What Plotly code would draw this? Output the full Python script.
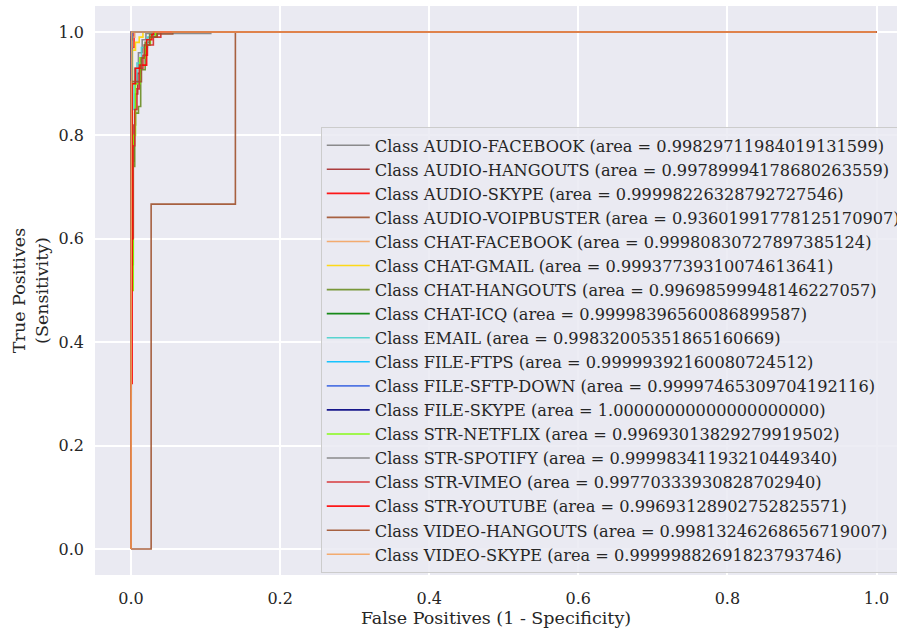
import plotly.graph_objects as go

class_names = ["AUDIO-FACEBOOK", "AUDIO-HANGOUTS", "AUDIO-SKYPE", "AUDIO-VOIPBUSTER",
               "CHAT-FACEBOOK", "CHAT-GMAIL", "CHAT-HANGOUTS", "CHAT-ICQ", "EMAIL",
               "FILE-FTPS", "FILE-SFTP-DOWN", "FILE-SKYPE", "STR-NETFLIX", "STR-SPOTIFY",
               "STR-VIMEO", "STR-YOUTUBE", "VIDEO-HANGOUTS", "VIDEO-SKYPE"]

auc_labels = ["0.99829711984019131599", "0.99789994178680263559", "0.99998226328792727546",
              "0.93601991778125170907", "0.99980830727897385124", "0.99937739310074613641",
              "0.99698599948146227057", "0.99998396560086899587", "0.99832005351865160669",
              "0.99999392160080724512", "0.99997465309704192116", "1.00000000000000000000",
              "0.99693013829279919502", "0.99998341193210449340", "0.99770333930828702940",
              "0.99693128902752825571", "0.99813246268656719007", "0.99999882691823793746"]

line_colors = ["#808080", "#a52a2a", "#ff0000", "#a0522d", "#f4a460", "#ffd700", "#6b8e23",
               "#008000", "#48d1cc", "#00bfff", "#4169e1", "#000080", "#7cfc00", "#808080",
               "#d62728", "#ff0000", "#a0522d", "#f4a460"]

fpr_audio_facebook = [0, 0, 0.005, 0.005, 0.010, 0.010, 0.015, 0.015, 0.020, 0.020, 0.107, 0.107, 1]
tpr_audio_facebook = [0, 0.90, 0.90, 0.93, 0.93, 0.96, 0.96, 0.985, 0.985, 0.997, 0.997, 1, 1]

fpr_audio_hangouts = [0, 0, 0.002, 0.002, 0.004, 0.004, 0.006, 0.006, 0.009, 0.009, 0.013, 0.013,
                      0.018, 0.018, 0.025, 0.025, 0.035, 0.035, 1]
tpr_audio_hangouts = [0, 0.55, 0.55, 0.75, 0.75, 0.82, 0.82, 0.88, 0.88, 0.92, 0.92, 0.95,
                      0.95, 0.975, 0.975, 0.99, 0.99, 1, 1]

fpr_audio_skype = [0, 0, 0.0015, 0.0015, 0.004, 0.004, 1]
tpr_audio_skype = [0, 0.58, 0.58, 0.97, 0.97, 1, 1]

fpr_audio_voipbuster = [0, 0.027, 0.027, 0.14, 0.14, 1]
tpr_audio_voipbuster = [0, 0, 0.667, 0.667, 1, 1]

fpr_chat_facebook = [0, 0, 0.002, 0.002, 0.005, 0.005, 1]
tpr_chat_facebook = [0, 0.97, 0.97, 0.99, 0.99, 1, 1]

fpr_chat_gmail = [0, 0, 0.002, 0.002, 0.006, 0.006, 0.011, 0.011, 0.016, 0.016, 1]
tpr_chat_gmail = [0, 0.90, 0.90, 0.965, 0.965, 0.98, 0.98, 0.99, 0.99, 1, 1]

fpr_chat_hangouts = [0, 0, 0.003, 0.003, 0.005, 0.005, 0.010, 0.010, 0.013, 0.013, 0.019, 0.019,
                     0.025, 0.025, 0.035, 0.035, 1]
tpr_chat_hangouts = [0, 0.55, 0.55, 0.74, 0.74, 0.843, 0.843, 0.856, 0.856, 0.927, 0.927, 0.98,
                     0.98, 0.995, 0.995, 1, 1]

fpr_chat_icq = [0, 0, 0.0015, 0.0015, 1]
tpr_chat_icq = [0, 0.985, 0.985, 1, 1]

fpr_email = [0, 0, 0.004, 0.004, 0.008, 0.008, 0.014, 0.014, 0.022, 0.022, 0.030, 0.030, 1]
tpr_email = [0, 0.85, 0.85, 0.90, 0.90, 0.94, 0.94, 0.97, 0.97, 0.99, 0.99, 1, 1]

fpr_file_ftps = [0, 0, 0.001, 0.001, 1]
tpr_file_ftps = [0, 0.995, 0.995, 1, 1]

fpr_file_sftp_down = [0, 0, 0.002, 0.002, 1]
tpr_file_sftp_down = [0, 0.99, 0.99, 1, 1]

fpr_file_skype = [0, 0, 1]
tpr_file_skype = [0, 1, 1]

fpr_str_netflix = [0, 0, 0.003, 0.003, 0.006, 0.006, 0.012, 0.012, 0.020, 0.020, 0.026, 0.026,
                   0.033, 0.033, 1]
tpr_str_netflix = [0, 0.50, 0.50, 0.80, 0.80, 0.90, 0.90, 0.95, 0.95, 0.975, 0.975, 0.99,
                   0.99, 1, 1]

fpr_str_spotify = [0, 0, 0.001, 0.001, 1]
tpr_str_spotify = [0, 0.98, 0.98, 1, 1]

fpr_str_vimeo = [0, 0, 0.003, 0.003, 0.005, 0.005, 0.008, 0.008, 0.011, 0.011, 0.016, 0.016,
                 0.022, 0.022, 0.030, 0.030, 0.040, 0.040, 1]
tpr_str_vimeo = [0, 0.60, 0.60, 0.78, 0.78, 0.85, 0.85, 0.89, 0.89, 0.93, 0.93, 0.955,
                 0.955, 0.975, 0.975, 0.99, 0.99, 1, 1]

fpr_str_youtube = [0, 0, 0.0015, 0.0015, 0.006, 0.006, 0.012, 0.012, 0.021, 0.021, 0.028, 0.028,
                   0.030, 0.030, 1]
tpr_str_youtube = [0, 0.32, 0.32, 0.90, 0.90, 0.93, 0.93, 0.936, 0.936, 0.985, 0.985, 0.995,
                   0.995, 1, 1]

fpr_video_hangouts = [0, 0, 0.014, 0.014, 0.018, 0.018, 0.025, 0.025, 0.035, 0.035, 0.056, 0.056, 1]
tpr_video_hangouts = [0, 0.904, 0.904, 0.95, 0.95, 0.975, 0.975, 0.99, 0.99, 0.996, 0.996, 1, 1]

fpr_video_skype = [0, 0, 0.0005, 0.0005, 1]
tpr_video_skype = [0, 0.999, 0.999, 1, 1]

fpr_lists = [fpr_audio_facebook, fpr_audio_hangouts, fpr_audio_skype, fpr_audio_voipbuster,
             fpr_chat_facebook, fpr_chat_gmail, fpr_chat_hangouts, fpr_chat_icq, fpr_email,
             fpr_file_ftps, fpr_file_sftp_down, fpr_file_skype, fpr_str_netflix, fpr_str_spotify,
             fpr_str_vimeo, fpr_str_youtube, fpr_video_hangouts, fpr_video_skype]
tpr_lists = [tpr_audio_facebook, tpr_audio_hangouts, tpr_audio_skype, tpr_audio_voipbuster,
             tpr_chat_facebook, tpr_chat_gmail, tpr_chat_hangouts, tpr_chat_icq, tpr_email,
             tpr_file_ftps, tpr_file_sftp_down, tpr_file_skype, tpr_str_netflix, tpr_str_spotify,
             tpr_str_vimeo, tpr_str_youtube, tpr_video_hangouts, tpr_video_skype]

tick_vals = [0.0, 0.2, 0.4, 0.6, 0.8, 1.0]

FONT = "DejaVu Serif"
TEXT = "#262626"

fig = go.Figure()
for name, auc, col, fx, ty in zip(class_names, auc_labels, line_colors, fpr_lists, tpr_lists):
    fig.add_trace(go.Scatter(
        x=fx, y=ty, mode="lines",
        name=f"Class {name} (area = {auc})",
        line=dict(color=col, width=1.6),
        opacity=0.9,
    ))

fig.update_layout(
    width=897, height=631,
    margin=dict(l=95, r=0, t=6, b=56, autoexpand=False),
    paper_bgcolor="white",
    plot_bgcolor="#eaeaf2",
    font=dict(family=FONT, size=16, color=TEXT),
    showlegend=True,
    legend=dict(
        x=0.2815, y=0.787, xanchor="left", yanchor="top",
        bgcolor="rgba(234,234,242,0.85)",
        bordercolor="#cccccc", borderwidth=1,
        font=dict(family=FONT, size=16.2, color=TEXT),
        itemwidth=43,
    ),
    xaxis=dict(
        range=[-0.0483, 1.0275],
        tickvals=tick_vals, tickformat=".1f",
        showgrid=True, gridcolor="white", gridwidth=1.5,
        zeroline=False, showline=False, ticks="",
        ticklabelstandoff=12,
        tickfont=dict(family=FONT, size=16, color=TEXT),
        title=dict(text="False Positives (1 - Specificity)",
                   font=dict(family=FONT, size=17.5, color=TEXT), standoff=2),
    ),
    yaxis=dict(
        range=[-0.0503, 1.0503],
        tickvals=tick_vals, tickformat=".1f",
        showgrid=True, gridcolor="white", gridwidth=1.5,
        zeroline=False, showline=False, ticks="",
        ticklabelstandoff=10,
        tickfont=dict(family=FONT, size=16, color=TEXT),
        title=dict(text="True Positives<br>(Sensitivity)",
                   font=dict(family=FONT, size=17.5, color=TEXT), standoff=5),
    ),
)

fig.write_html("out.html",
               config={"displayModeBar": False},
               post_script="document.body.style.margin='0';document.body.style.overflow='hidden';")
